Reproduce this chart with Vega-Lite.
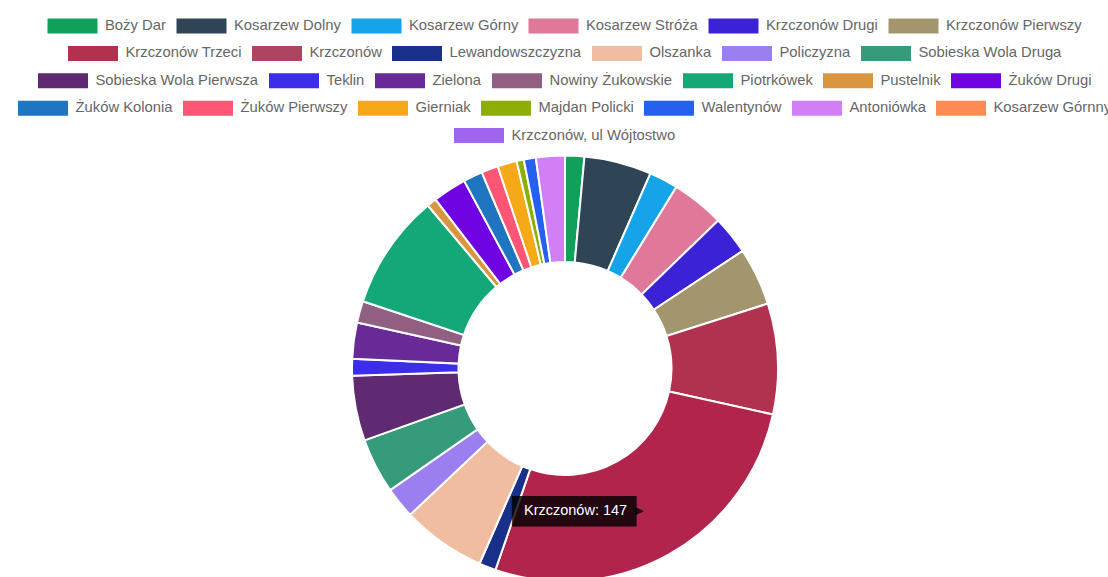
{
  "$schema": "https://vega.github.io/schema/vega-lite/v6.json",
  "width": 1130,
  "height": 450,
  "padding": {"top": 18.5, "left": 0, "right": 0, "bottom": 0},
  "autosize": {"type": "pad"},
  "background": "white",
  "data": {
    "values": [
      {"idx": 1, "name": "Boży Dar", "value": 8},
      {"idx": 2, "name": "Kosarzew Dolny", "value": 28},
      {"idx": 3, "name": "Kosarzew Górny", "value": 12},
      {"idx": 4, "name": "Kosarzew Stróża", "value": 22},
      {"idx": 5, "name": "Krzczonów Drugi", "value": 16},
      {"idx": 6, "name": "Krzczonów Pierwszy", "value": 24},
      {"idx": 7, "name": "Krzczonów Trzeci", "value": 46},
      {"idx": 8, "name": "Krzczonów", "value": 147},
      {"idx": 9, "name": "Lewandowszczyzna", "value": 7},
      {"idx": 10, "name": "Olszanka", "value": 35},
      {"idx": 11, "name": "Policzyzna", "value": 13},
      {"idx": 12, "name": "Sobieska Wola Druga", "value": 23},
      {"idx": 13, "name": "Sobieska Wola Pierwsza", "value": 27},
      {"idx": 14, "name": "Teklin", "value": 7},
      {"idx": 15, "name": "Zielona", "value": 15},
      {"idx": 16, "name": "Nowiny Żukowskie", "value": 9},
      {"idx": 17, "name": "Piotrkówek", "value": 48},
      {"idx": 18, "name": "Pustelnik", "value": 4},
      {"idx": 19, "name": "Żuków Drugi", "value": 14},
      {"idx": 20, "name": "Żuków Kolonia", "value": 8},
      {"idx": 21, "name": "Żuków Pierwszy", "value": 7},
      {"idx": 22, "name": "Gierniak", "value": 8},
      {"idx": 23, "name": "Majdan Policki", "value": 3},
      {"idx": 24, "name": "Walentynów", "value": 5},
      {"idx": 25, "name": "Antoniówka", "value": 12},
      {"idx": 26, "name": "Kosarzew Górnny", "value": 0},
      {"idx": 27, "name": "Krzczonów, ul Wójtostwo", "value": 0}
    ]
  },
  "layer": [
    {
      "mark": {"type": "arc", "outerRadius": 213, "innerRadius": 106.5, "stroke": "#ffffff", "strokeWidth": 2},
      "encoding": {
        "theta": {"field": "value", "type": "quantitative", "stack": true},
        "order": {"field": "idx", "type": "quantitative"},
        "color": {
          "field": "name", "type": "nominal", "legend": null,
          "scale": {
            "domain": ["Boży Dar", "Kosarzew Dolny", "Kosarzew Górny", "Kosarzew Stróża", "Krzczonów Drugi", "Krzczonów Pierwszy", "Krzczonów Trzeci", "Krzczonów", "Lewandowszczyzna", "Olszanka", "Policzyzna", "Sobieska Wola Druga", "Sobieska Wola Pierwsza", "Teklin", "Zielona", "Nowiny Żukowskie", "Piotrkówek", "Pustelnik", "Żuków Drugi", "Żuków Kolonia", "Żuków Pierwszy", "Gierniak", "Majdan Policki", "Walentynów", "Antoniówka", "Kosarzew Górnny", "Krzczonów, ul Wójtostwo"],
            "range": ["#10a05a", "#2f4454", "#15a4e8", "#e0789a", "#3b22d4", "#a3956d", "#b0324f", "#b1244c", "#18308a", "#f0bda1", "#9b7ff0", "#369b7b", "#602a72", "#3b2de8", "#682a96", "#915f82", "#14a879", "#d99641", "#6f03e2", "#2075c0", "#ff5675", "#f5a917", "#8fae05", "#2660ee", "#d07ff5", "#fd8c54", "#9f65ee"]
          }
        }
      }
    },
    {
      "mark": {"type": "text", "radius": 160, "font": "DejaVu Sans Mono", "fontSize": 25.8, "align": "right", "baseline": "middle", "dx": -7, "dy": 4, "color": "#000000", "opacity": 0.8},
      "encoding": {
        "theta": {"field": "value", "type": "quantitative", "stack": true},
        "order": {"field": "idx", "type": "quantitative"},
        "detail": {"field": "name", "type": "nominal"},
        "text": {"condition": {"test": "datum.name === 'Krzczonów'", "value": "████████"}, "value": ""}
      }
    },
    {
      "mark": {"type": "text", "radius": 160, "font": "DejaVu Sans", "fontSize": 11, "align": "left", "baseline": "middle", "dx": -8, "dy": 3, "color": "#000000", "opacity": 0.8},
      "encoding": {
        "theta": {"field": "value", "type": "quantitative", "stack": true},
        "order": {"field": "idx", "type": "quantitative"},
        "detail": {"field": "name", "type": "nominal"},
        "text": {"condition": {"test": "datum.name === 'Krzczonów'", "value": "▶"}, "value": ""}
      }
    },
    {
      "mark": {"type": "text", "radius": 160, "font": "Liberation Sans", "fontSize": 14.5, "align": "right", "baseline": "middle", "dx": -16, "dy": 3, "color": "#ffffff"},
      "encoding": {
        "theta": {"field": "value", "type": "quantitative", "stack": true},
        "order": {"field": "idx", "type": "quantitative"},
        "detail": {"field": "name", "type": "nominal"},
        "text": {"condition": {"test": "datum.name === 'Krzczonów'", "value": "Krzczonów: 147"}, "value": ""}
      }
    },
    {
      "transform": [{"filter": {"field": "name", "oneOf": ["Boży Dar", "Kosarzew Dolny", "Kosarzew Górny", "Kosarzew Stróża", "Krzczonów Drugi", "Krzczonów Pierwszy"]}}],
      "mark": {"type": "arc", "outerRadius": 0, "innerRadius": 0},
      "encoding": {
        "color": {"field": "name", "type": "nominal",
          "scale": {"domain": ["Boży Dar", "Kosarzew Dolny", "Kosarzew Górny", "Kosarzew Stróża", "Krzczonów Drugi", "Krzczonów Pierwszy"], "range": ["#10a05a", "#2f4454", "#15a4e8", "#e0789a", "#3b22d4", "#a3956d"]},
          "legend": {"orient": "top", "direction": "horizontal", "title": null, "offset": 0, "symbolType": "M-1,-1H5.667V1H-1Z", "symbolSize": 225, "symbolStrokeWidth": 0}}
      }
    },
    {
      "transform": [{"filter": {"field": "name", "oneOf": ["Krzczonów Trzeci", "Krzczonów", "Lewandowszczyzna", "Olszanka", "Policzyzna", "Sobieska Wola Druga"]}}],
      "mark": {"type": "arc", "outerRadius": 0, "innerRadius": 0},
      "encoding": {
        "color": {"field": "name", "type": "nominal",
          "scale": {"domain": ["Krzczonów Trzeci", "Krzczonów", "Lewandowszczyzna", "Olszanka", "Policzyzna", "Sobieska Wola Druga"], "range": ["#b3304f", "#ad4460", "#18308a", "#f0bda1", "#9b7ff0", "#369b7b"]},
          "legend": {"orient": "top", "direction": "horizontal", "title": null, "offset": 0, "symbolType": "M-1,-1H5.667V1H-1Z", "symbolSize": 225, "symbolStrokeWidth": 0}}
      }
    },
    {
      "transform": [{"filter": {"field": "name", "oneOf": ["Sobieska Wola Pierwsza", "Teklin", "Zielona", "Nowiny Żukowskie", "Piotrkówek", "Pustelnik", "Żuków Drugi"]}}],
      "mark": {"type": "arc", "outerRadius": 0, "innerRadius": 0},
      "encoding": {
        "color": {"field": "name", "type": "nominal",
          "scale": {"domain": ["Sobieska Wola Pierwsza", "Teklin", "Zielona", "Nowiny Żukowskie", "Piotrkówek", "Pustelnik", "Żuków Drugi"], "range": ["#602a72", "#3b2de8", "#682a96", "#915f82", "#14a879", "#d99641", "#6f03e2"]},
          "legend": {"orient": "top", "direction": "horizontal", "title": null, "offset": 0, "symbolType": "M-1,-1H5.667V1H-1Z", "symbolSize": 225, "symbolStrokeWidth": 0}}
      }
    },
    {
      "transform": [{"filter": {"field": "name", "oneOf": ["Żuków Kolonia", "Żuków Pierwszy", "Gierniak", "Majdan Policki", "Walentynów", "Antoniówka", "Kosarzew Górnny"]}}],
      "mark": {"type": "arc", "outerRadius": 0, "innerRadius": 0},
      "encoding": {
        "color": {"field": "name", "type": "nominal",
          "scale": {"domain": ["Żuków Kolonia", "Żuków Pierwszy", "Gierniak", "Majdan Policki", "Walentynów", "Antoniówka", "Kosarzew Górnny"], "range": ["#2075c0", "#ff5675", "#f5a917", "#8fae05", "#2660ee", "#d07ff5", "#fd8c54"]},
          "legend": {"orient": "top", "direction": "horizontal", "title": null, "offset": 0, "symbolType": "M-1,-1H5.667V1H-1Z", "symbolSize": 225, "symbolStrokeWidth": 0}}
      }
    },
    {
      "transform": [{"filter": {"field": "name", "oneOf": ["Krzczonów, ul Wójtostwo"]}}],
      "mark": {"type": "arc", "outerRadius": 0, "innerRadius": 0},
      "encoding": {
        "color": {"field": "name", "type": "nominal",
          "scale": {"domain": ["Krzczonów, ul Wójtostwo"], "range": ["#9f65ee"]},
          "legend": {"orient": "top", "direction": "horizontal", "title": null, "offset": 0, "symbolType": "M-1,-1H5.667V1H-1Z", "symbolSize": 225, "symbolStrokeWidth": 0}}
      }
    }
  ],
  "resolve": {"scale": {"color": "independent"}},
  "config": {
    "view": {"stroke": null},
    "legend": {
      "labelFont": "Liberation Sans",
      "labelFontSize": 14.8,
      "labelColor": "#666666",
      "labelOffset": 42.5,
      "columnPadding": 10,
      "labelLimit": 600,
      "padding": 0,
      "layout": {"top": {"anchor": "middle", "direction": "vertical", "center": true, "margin": 12.4}}
    }
  }
}
